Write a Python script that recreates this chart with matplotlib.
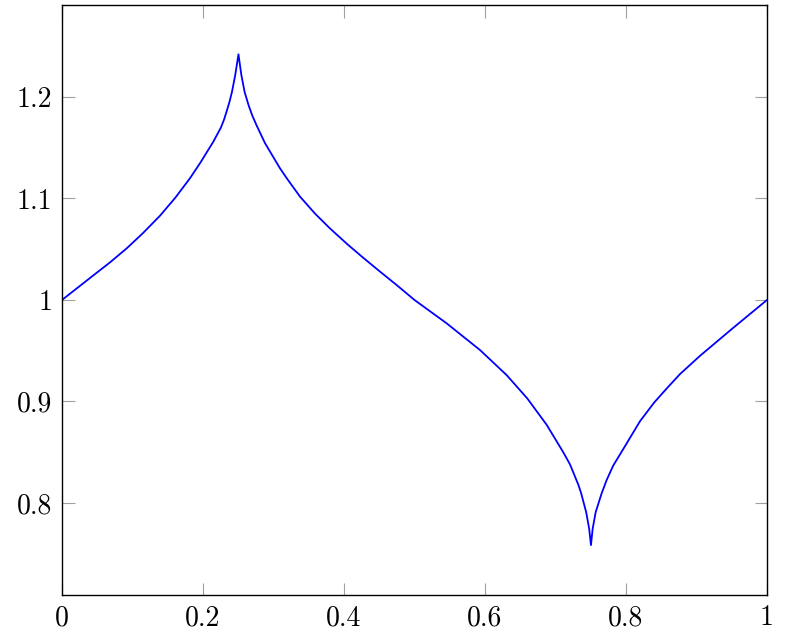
import matplotlib
matplotlib.use("Agg")
import matplotlib.pyplot as plt

# curve points
x = [0.0, 0.044, 0.068, 0.092, 0.115, 0.139, 0.161, 0.1816, 0.196, 0.2147,
     0.2255, 0.230, 0.2336, 0.2375, 0.2411, 0.2458, 0.2503,
     0.2543, 0.259, 0.2648, 0.270, 0.276, 0.288, 0.3092, 0.3187, 0.3376,
     0.359, 0.3801, 0.4038, 0.4274, 0.451, 0.4747, 0.5, 0.5456, 0.5929,
     0.6307, 0.660, 0.6875, 0.711, 0.7206, 0.7324, 0.7364, 0.7435, 0.7478,
     0.7503,
     0.7527, 0.757, 0.7655, 0.7726, 0.782, 0.796, 0.8198, 0.840, 0.858,
     0.8766, 0.905, 0.952, 1.0]
y = [1.0, 1.024, 1.037, 1.051, 1.066, 1.083, 1.101, 1.120, 1.135, 1.156,
     1.170, 1.178, 1.186, 1.195, 1.205, 1.222, 1.242,
     1.222, 1.205, 1.1915, 1.1815, 1.172, 1.1544, 1.1297, 1.120, 1.1018,
     1.085, 1.0705, 1.0555, 1.0415, 1.028, 1.0147, 1.0, 0.977, 0.9507,
     0.926, 0.903, 0.877, 0.850, 0.838, 0.818, 0.8096, 0.791, 0.7745,
     0.7585,
     0.7745, 0.791, 0.8096, 0.8227, 0.837, 0.853, 0.8805, 0.899, 0.913,
     0.927, 0.945, 0.9725, 1.0]

xticks = [0, 0.2, 0.4, 0.6, 0.8, 1]
xlabels = ["0", "0.2", "0.4", "0.6", "0.8", "1"]
yticks = [0.8, 0.9, 1.0, 1.1, 1.2]
ylabels = ["0.8", "0.9", "1", "1.1", "1.2"]

plt.rcParams["font.family"] = "cmr10"
plt.rcParams["axes.formatter.use_mathtext"] = True

fig = plt.figure(figsize=(7.89, 6.39), dpi=100)
ax = fig.add_axes([0.0786, 0.0689, 0.8935, 0.9233])
ax.plot(x, y, color="#0000ff", lw=1.3)

ax.set_xlim(0, 1)
ax.set_ylim(0.7094, 1.2906)
ax.set_xticks(xticks)
ax.set_xticklabels(xlabels)
ax.set_yticks(yticks)
ax.set_yticklabels(ylabels)
ax.tick_params(direction="in", length=9, width=0.8, color="#a0a0a0",
               labelsize=20, top=True, right=True, pad=7)
for s in ax.spines.values():
    s.set_linewidth(1.0)
    s.set_color("black")

fig.savefig("out.png", dpi=100)
